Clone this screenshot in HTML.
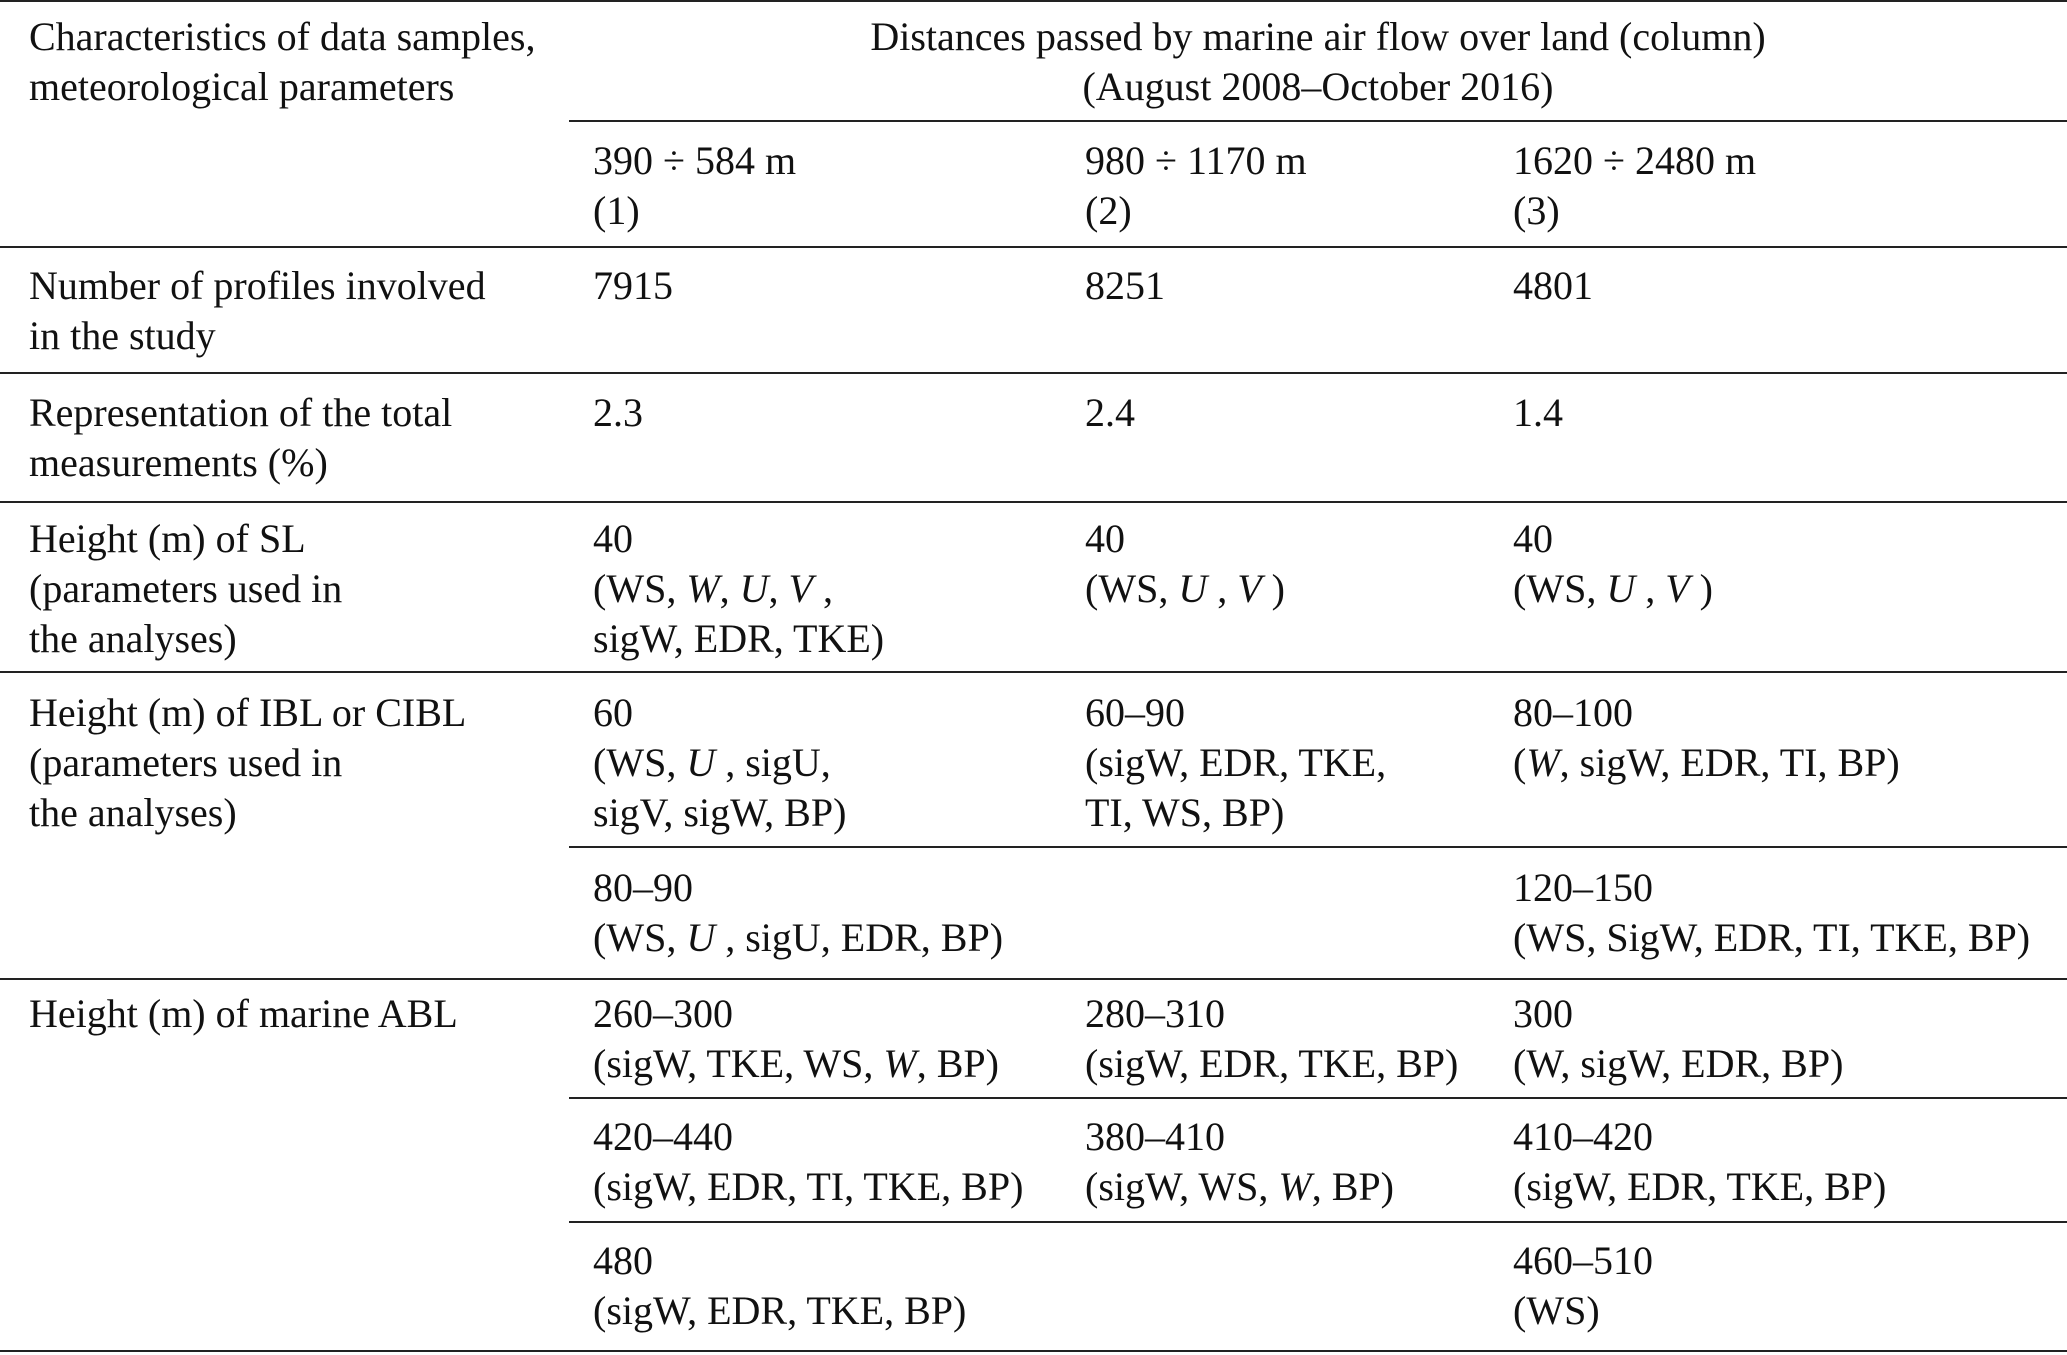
<!DOCTYPE html>
<html><head><meta charset="utf-8"><style>
body{margin:0;width:2067px;height:1355px;background:#fff;position:relative;overflow:hidden;font-family:"Liberation Serif",serif;font-size:40px;color:#111}
.t{position:absolute;line-height:50px;white-space:nowrap}
.r{position:absolute;height:2px;background:#222;right:0}
i{font-style:italic}
</style></head><body>
<div class="r" style="top:0;left:0"></div>
<div class="t" style="left:29px;top:12px">Characteristics of data samples,<br>meteorological parameters</div>
<div class="t" style="left:569px;width:1498px;text-align:center;top:12px">Distances passed by marine air flow over land (column)<br>(August 2008–October 2016)</div>
<div class="r" style="top:120px;left:569px"></div>
<div class="t" style="left:593px;top:136px">390 ÷ 584 m<br>(1)</div>
<div class="t" style="left:1085px;top:136px">980 ÷ 1170 m<br>(2)</div>
<div class="t" style="left:1513px;top:136px">1620 ÷ 2480 m<br>(3)</div>
<div class="r" style="top:246px;left:0"></div>

<div class="t" style="left:29px;top:261px">Number of profiles involved<br>in the study</div>
<div class="t" style="left:593px;top:261px">7915</div>
<div class="t" style="left:1085px;top:261px">8251</div>
<div class="t" style="left:1513px;top:261px">4801</div>
<div class="r" style="top:372px;left:0"></div>

<div class="t" style="left:29px;top:388px">Representation of the total<br>measurements (%)</div>
<div class="t" style="left:593px;top:388px">2.3</div>
<div class="t" style="left:1085px;top:388px">2.4</div>
<div class="t" style="left:1513px;top:388px">1.4</div>
<div class="r" style="top:501px;left:0"></div>

<div class="t" style="left:29px;top:514px">Height (m) of SL<br>(parameters used in<br>the analyses)</div>
<div class="t" style="left:593px;top:514px">40<br>(WS, <i>W</i>, <i>U</i>, <i>V</i> ,<br>sigW, EDR, TKE)</div>
<div class="t" style="left:1085px;top:514px">40<br>(WS, <i>U</i> , <i>V</i> )</div>
<div class="t" style="left:1513px;top:514px">40<br>(WS, <i>U</i> , <i>V</i> )</div>
<div class="r" style="top:671px;left:0"></div>

<div class="t" style="left:29px;top:688px">Height (m) of IBL or CIBL<br>(parameters used in<br>the analyses)</div>
<div class="t" style="left:593px;top:688px">60<br>(WS, <i>U</i> , sigU,<br>sigV, sigW, BP)</div>
<div class="t" style="left:1085px;top:688px">60–90<br>(sigW, EDR, TKE,<br>TI, WS, BP)</div>
<div class="t" style="left:1513px;top:688px">80–100<br>(<i>W</i>, sigW, EDR, TI, BP)</div>
<div class="r" style="top:846px;left:569px"></div>
<div class="t" style="left:593px;top:863px">80–90<br>(WS, <i>U</i> , sigU, EDR, BP)</div>
<div class="t" style="left:1513px;top:863px">120–150<br>(WS, SigW, EDR, TI, TKE, BP)</div>
<div class="r" style="top:978px;left:0"></div>

<div class="t" style="left:29px;top:989px">Height (m) of marine ABL</div>
<div class="t" style="left:593px;top:989px">260–300<br>(sigW, TKE, WS, <i>W</i>, BP)</div>
<div class="t" style="left:1085px;top:989px">280–310<br>(sigW, EDR, TKE, BP)</div>
<div class="t" style="left:1513px;top:989px">300<br>(W, sigW, EDR, BP)</div>
<div class="r" style="top:1097px;left:569px"></div>
<div class="t" style="left:593px;top:1112px">420–440<br>(sigW, EDR, TI, TKE, BP)</div>
<div class="t" style="left:1085px;top:1112px">380–410<br>(sigW, WS, <i>W</i>, BP)</div>
<div class="t" style="left:1513px;top:1112px">410–420<br>(sigW, EDR, TKE, BP)</div>
<div class="r" style="top:1221px;left:569px"></div>
<div class="t" style="left:593px;top:1236px">480<br>(sigW, EDR, TKE, BP)</div>
<div class="t" style="left:1513px;top:1236px">460–510<br>(WS)</div>
<div class="r" style="top:1350px;left:0"></div>
</body></html>
